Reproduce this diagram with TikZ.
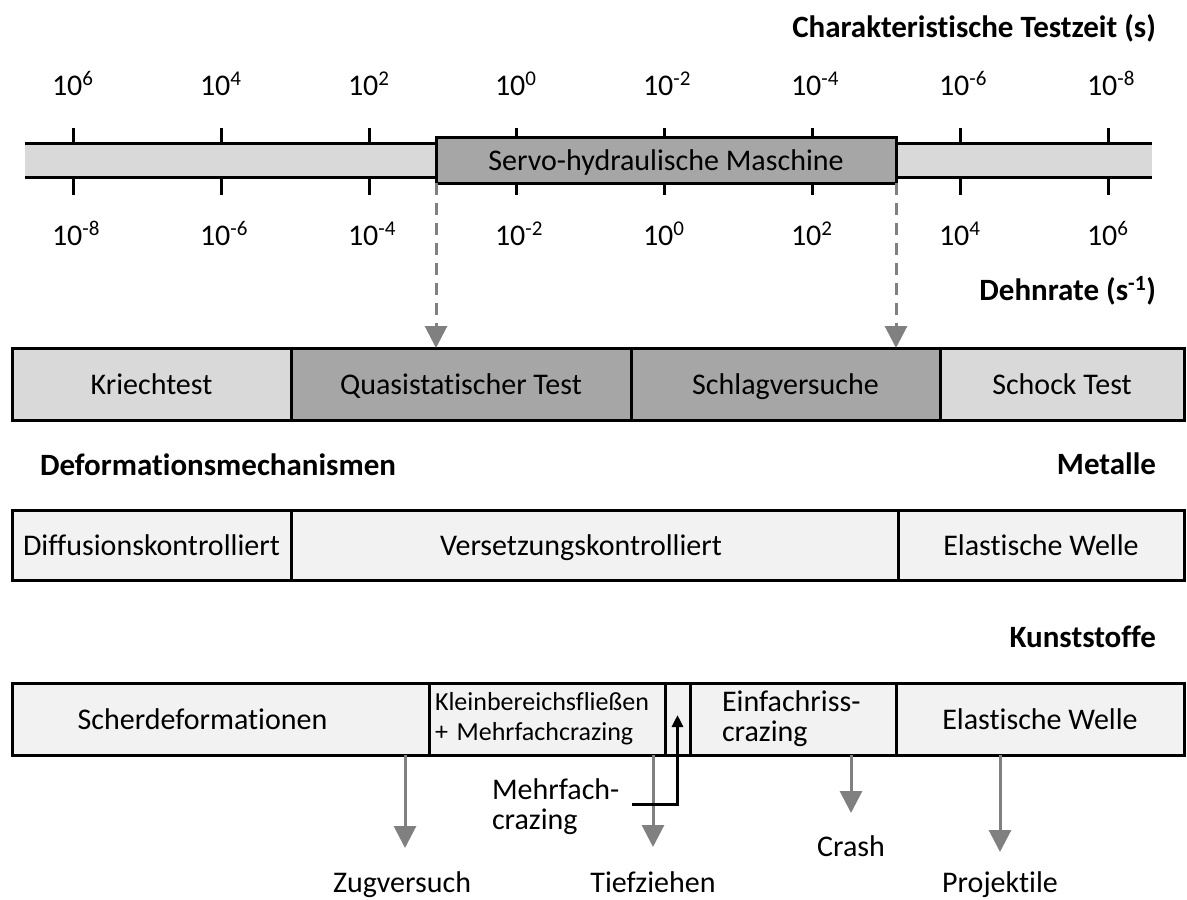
\documentclass[tikz,border=0pt]{standalone}
\usepackage{fontspec}
\setmainfont{Carlito}[Ligatures=CommonOff]
\usetikzlibrary{arrows.meta}
\definecolor{lightbar}{HTML}{D9D9D9}
\definecolor{darkbox}{HTML}{A6A6A6}
\definecolor{palebox}{HTML}{F2F2F2}
\definecolor{arrowgrey}{HTML}{808080}
\begin{document}
\begin{tikzpicture}[x=1pt,y=-1pt,
  every node/.style={inner sep=0pt, outer sep=0pt, font=\fontsize{30}{30}\selectfont},
  cell/.style={draw=black, line width=3pt, anchor=north west},
  textc/.style={text height=20pt, text depth=0pt},
  heading/.style={font=\fontsize{31}{31}\selectfont\bfseries},
  axlabel/.style={anchor=base west},
  axtick/.style={draw=black, line width=3pt},
  garrow/.style={draw=arrowgrey, line width=3pt, -{Triangle[width=22pt,length=22pt]}},
  darrow/.style={draw=arrowgrey, line width=3pt, dash pattern=on 12pt off 8pt, -{Triangle[width=22pt,length=22pt]}},
  barrow/.style={draw=black, line width=3pt, -{Triangle[width=11pt,length=12pt]}},
  bottomlabel/.style={anchor=base}
]
\useasboundingbox (0,0) rectangle (1187,900);

% titles
\node[heading, anchor=base east] (title) at (1156,37) {Charakteristische Testzeit (s)};
\node[heading, anchor=base east] (dehn) at (1156,300) {Dehnrate (s\textsuperscript{-1})};

% axis bar
\fill[lightbar] (25,143) rectangle (1152,177);
\draw[line width=3pt] (25,143) -- (1152,143);
\draw[line width=3pt] (25,177) -- (1152,177);
\foreach \x in {73,221,369,516,664,812,960,1108}{
  \draw[axtick] (\x,128) -- (\x,143);
  \draw[axtick] (\x,177) -- (\x,195);
}
\foreach \i/\x/\e in {1/73/6,2/221/4,3/369/2,4/516/0,5/664/-2,6/812/-4,7/960/-6,8/1108/-8}{
  \node[axlabel] (t\i) at (\x-21,95) {10\textsuperscript{\e}};
}
\foreach \i/\x/\e in {1/73/-8,2/221/-6,3/369/-4,4/516/-2,5/664/0,6/812/2,7/960/4,8/1108/6}{
  \node[axlabel] (b\i) at (\x-21,245) {10\textsuperscript{\e}};
}
\node[cell, textc, fill=darkbox, minimum width=460pt, minimum height=46pt] (servo) at (436,137) {Servo-hydraulische Maschine};

% test types
\node[cell, textc, fill=lightbar, minimum width=279pt, minimum height=72pt] (kriech) at (12,348) {Kriechtest};
\node[cell, textc, fill=darkbox, minimum width=340pt, minimum height=72pt] (quasi) at (291,348) {Quasistatischer Test};
\node[cell, textc, fill=darkbox, minimum width=309pt, minimum height=72pt] (schlag) at (631,348) {Schlagversuche};
\node[cell, textc, fill=lightbar, minimum width=244pt, minimum height=72pt] (schock) at (940,348) {Schock Test};

\draw[darrow] (servo.south west) -- (servo.south west |- quasi.north);
\draw[darrow] (servo.south east) -- (servo.south east |- schlag.north);

% metals
\node[heading, anchor=base west] (defm) at (40,475) {Deformationsmechanismen};
\node[heading, anchor=base east] (met) at (1156,474) {Metalle};
\node[cell, textc, fill=palebox, minimum width=279pt, minimum height=70pt] (diff) at (12,510) {Diffusionskontrolliert};
\node[cell, textc, fill=palebox, minimum width=607pt, minimum height=70pt] (vers) at (291,510) {\kern-27pt Versetzungskontrolliert};
\node[cell, textc, fill=palebox, minimum width=286pt, minimum height=70pt] (elast1) at (898,510) {Elastische Welle};

% plastics
\node[heading, anchor=base east] (kunst) at (1156,647) {Kunststoffe};
\node[cell, textc, fill=palebox, minimum width=417pt, minimum height=72pt] (scher) at (12,683) {\kern-36pt Scherdeformationen};
\node[cell, fill=palebox, minimum height=72pt, text width=224pt, inner xsep=6pt, align=left, font=\fontsize{26}{30}\selectfont] (klein) at (429,683) {Kleinbereichsfließen\\+ Mehrfachcrazing};
\node[cell, fill=palebox, minimum width=25pt, minimum height=72pt] (narrow) at (665,683) {};
\node[cell, fill=palebox, minimum height=72pt, text width=142pt, inner xsep=32pt, align=left] (einfach) at (690,683) {Einfachriss-\\crazing};
\node[cell, textc, fill=palebox, minimum width=288pt, minimum height=72pt] (elast2) at (896,683) {Elastische Welle};

% application labels
\node[bottomlabel] (zug) at (402,892) {Zugversuch};
\node[bottomlabel] (tief) at (653,892) {Tiefziehen};
\node[bottomlabel] (crash) at (851,856) {Crash};
\node[bottomlabel] (proj) at (1000,892) {Projektile};
\node[anchor=west, align=left] (mf) at (492,807) {Mehrfach-\\crazing};

\coordinate (zugtip) at (405,848);
\coordinate (tieftip) at (653,847);
\coordinate (crashtip) at (851,813);
\coordinate (projtip) at (1000,852);
\draw[garrow] (zugtip |- scher.south) -- (zugtip);
\draw[garrow] (tieftip |- klein.south) -- (tieftip);
\draw[garrow] (crashtip |- einfach.south) -- (crashtip);
\draw[garrow] (projtip |- elast2.south) -- (projtip);

\draw[barrow] ([xshift=13pt,yshift=3pt]mf.east) -| ([yshift=4pt]narrow.center);
\end{tikzpicture}
\end{document}
